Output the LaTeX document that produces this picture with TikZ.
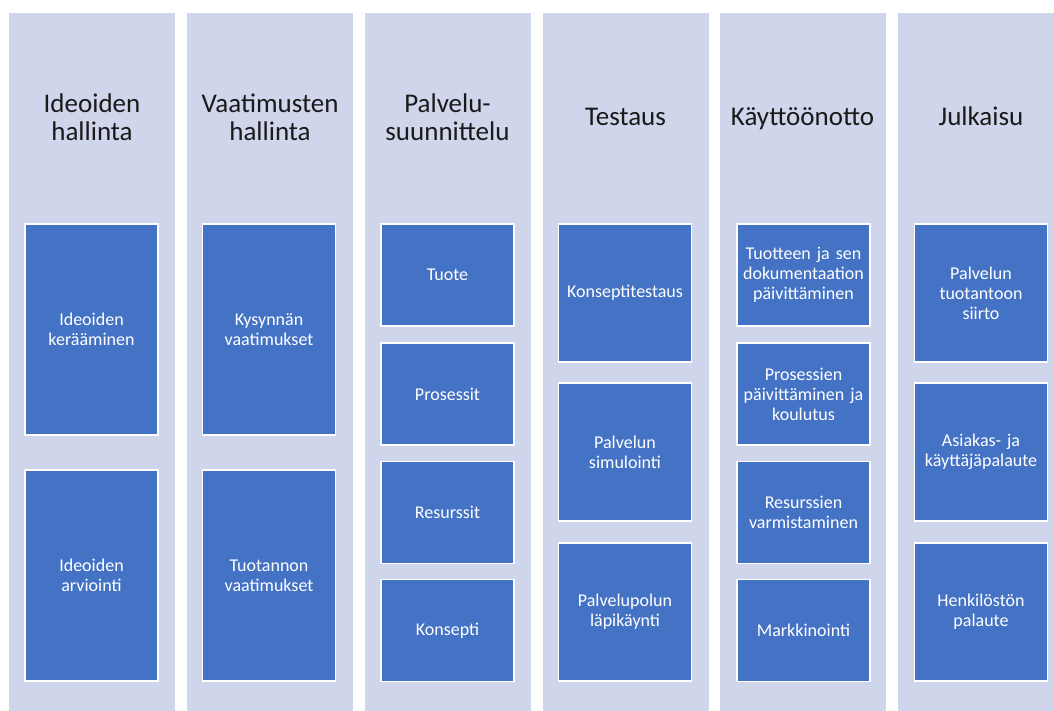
\documentclass[tikz,border=0pt]{standalone}
\usepackage{fontspec}
\setmainfont{Carlito}
\definecolor{colbg}{HTML}{CFD5EA}
\definecolor{boxbg}{HTML}{4472C4}
\definecolor{headtxt}{HTML}{1A1A1A}
\begin{document}
\begin{tikzpicture}[x=1pt,y=-1pt,
  lane/.style={fill=colbg,draw=none,inner sep=0pt,minimum width=166pt,minimum height=698pt,anchor=north},
  head/.style={text=headtxt,align=center,font=\fontsize{27}{28}\selectfont,inner sep=0pt},
  tallbox/.style={fill=boxbg,draw=white,line width=1.3pt,minimum width=133pt,minimum height=211pt,inner sep=2pt,text width=129pt,align=center,text=white,font=\fontsize{18}{20}\selectfont},
  midbox/.style={tallbox,minimum height=138pt},
  smallbox/.style={tallbox,minimum height=102pt}]
\useasboundingbox (0,0) rectangle (1054,711);
\begin{scope}
\clip (0,0) rectangle (1054,711);
% lanes
\node[lane] (l1) at (92,13) {};
\node[lane] (l2) at (270,13) {};
\node[lane] (l3) at (447.5,13) {};
\node[lane] (l4) at (625.5,13) {};
\node[lane] (l5) at (802.5,13) {};
\node[lane] (l6) at (981,13) {};
\end{scope}
% headings
\node[head] (h1) at (92,117) {Ideoiden\\hallinta};
\node[head] (h2) at (270,117) {Vaatimusten\\hallinta};
\node[head] (h3) at (447.5,117) {Palvelu-\\suunnittelu};
\node[head,anchor=base] (h4) at (625.5,126) {Testaus};
\node[head,anchor=base] (h5) at (802.5,126) {Käyttöönotto};
\node[head,anchor=base] (h6) at (981,126) {Julkaisu};
% column 1
\node[tallbox] (a1) at (91.5,329.5) {Ideoiden\\kerääminen};
\node[tallbox] (a2) at (91.5,575.5) {Ideoiden\\arviointi};
% column 2
\node[tallbox] (b1) at (269,329.5) {Kysynnän\\vaatimukset};
\node[tallbox] (b2) at (269,575.5) {Tuotannon\\vaatimukset};
% column 3
\node[smallbox] (c1) at (447.5,275) {Tuote};
\node[smallbox] (c2) at (447.5,394) {Prosessit};
\node[smallbox] (c3) at (447.5,512.5) {Resurssit};
\node[smallbox] (c4) at (447.5,630.5) {Konsepti};
% column 4
\node[midbox] (d1) at (625,293) {Konseptitestaus};
\node[midbox] (d2) at (625,452) {Palvelun\\simulointi};
\node[midbox] (d3) at (625,612) {Palvelupolun\\läpikäynti};
% column 5
\node[smallbox] (e1) at (803.5,275) {Tuotteen ja sen\\dokumentaation\\päivittäminen};
\node[smallbox] (e2) at (803.5,394) {Prosessien\\päivittäminen ja\\koulutus};
\node[smallbox] (e3) at (803.5,512.5) {Resurssien\\varmistaminen};
\node[smallbox] (e4) at (803.5,630.5) {Markkinointi};
% column 6
\node[midbox] (f1) at (981,293) {Palvelun\\tuotantoon\\siirto};
\node[midbox] (f2) at (981,452) {Asiakas- ja\\käyttäjäpalaute};
\node[midbox] (f3) at (981,612) {Henkilöstön\\palaute};
\end{tikzpicture}
\end{document}
